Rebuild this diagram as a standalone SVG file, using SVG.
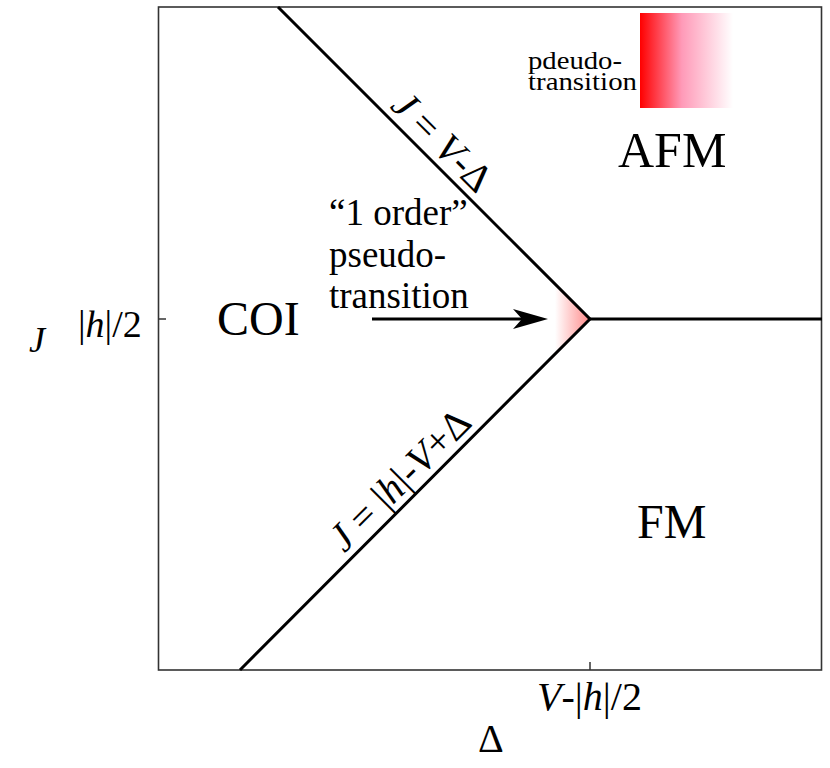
<svg xmlns="http://www.w3.org/2000/svg" width="830" height="768" viewBox="0 0 830 768">
<style>
.t{font-family:"Liberation Serif","Times New Roman",serif;fill:#000}
.i{font-style:italic}
.frame{fill:none;stroke:#333;stroke-width:1.6}
.pl{fill:none;stroke:#000;stroke-width:3}
</style>
<defs>
<linearGradient id="leg" x1="0" y1="0" x2="1" y2="0">
<stop offset="0" stop-color="#ff0000"/>
<stop offset="0.45" stop-color="#ff9ab8"/>
<stop offset="1" stop-color="#ffffff"/>
</linearGradient>
<linearGradient id="tip" gradientUnits="userSpaceOnUse" x1="555" y1="0" x2="590" y2="0">
<stop offset="0" stop-color="#ffffff"/>
<stop offset="1" stop-color="#ff8a8a"/>
</linearGradient>
</defs>
<rect width="830" height="768" fill="#fff"/>
<g id="axes">
<rect class="frame" x="158.5" y="7" width="663" height="663"/>
<line x1="158.5" y1="319" x2="166" y2="319" stroke="#333" stroke-width="1.5"/>
<line x1="590" y1="670" x2="590" y2="662" stroke="#333" stroke-width="1.5"/>
<text class="t i" x="29" y="352" font-size="36">J</text>
<text class="t" x="78" y="337" font-size="38">|<tspan class="i">h</tspan>|/2</text>
<text class="t" x="537" y="710" font-size="40"><tspan class="i">V</tspan>-|<tspan class="i">h</tspan>|/2</text>
<text class="t" x="478" y="752" font-size="40">Δ</text>
</g>
<g id="tip-region">
<polygon points="555,284 590,319 555,354" fill="url(#tip)"/>
</g>
<g id="connectors">
<polyline class="pl" points="278,7 590,319 240,670"/>
<line class="pl" x1="590" y1="319" x2="822" y2="319"/>
<line x1="372" y1="319" x2="522" y2="319" stroke="#000" stroke-width="3"/>
<polygon points="548,319 513,309 522,319 513,329" fill="#000"/>
</g>
<g id="label-upper">
<text class="t" font-size="40" text-anchor="middle" transform="translate(433,151) rotate(45)"><tspan class="i">J</tspan> = <tspan class="i">V</tspan>-Δ</text>
</g>
<g id="label-lower">
<text class="t" font-size="40" text-anchor="middle" transform="translate(409,489) rotate(-45)"><tspan class="i">J</tspan> = |<tspan class="i">h</tspan>|-<tspan class="i">V</tspan>+Δ</text>
</g>
<g id="AFM"><text class="t" x="618" y="167" font-size="50">AFM</text></g>
<g id="COI"><text class="t" x="217" y="335" font-size="48">COI</text></g>
<g id="FM"><text class="t" x="637" y="538" font-size="48">FM</text></g>
<g id="first-order">
<text class="t" font-size="37" x="329" y="225">“1 order”</text>
<text class="t" font-size="37" x="329" y="267">pseudo-</text>
<text class="t" font-size="37" x="329" y="308">transition</text>
</g>
<g id="legend">
<rect x="640" y="13" width="93" height="95" fill="url(#leg)"/>
<text class="t" font-size="25" x="528" y="69" textLength="94" lengthAdjust="spacingAndGlyphs">pdeudo-</text>
<text class="t" font-size="25" x="528" y="90" textLength="109" lengthAdjust="spacingAndGlyphs">transition</text>
</g>
</svg>
